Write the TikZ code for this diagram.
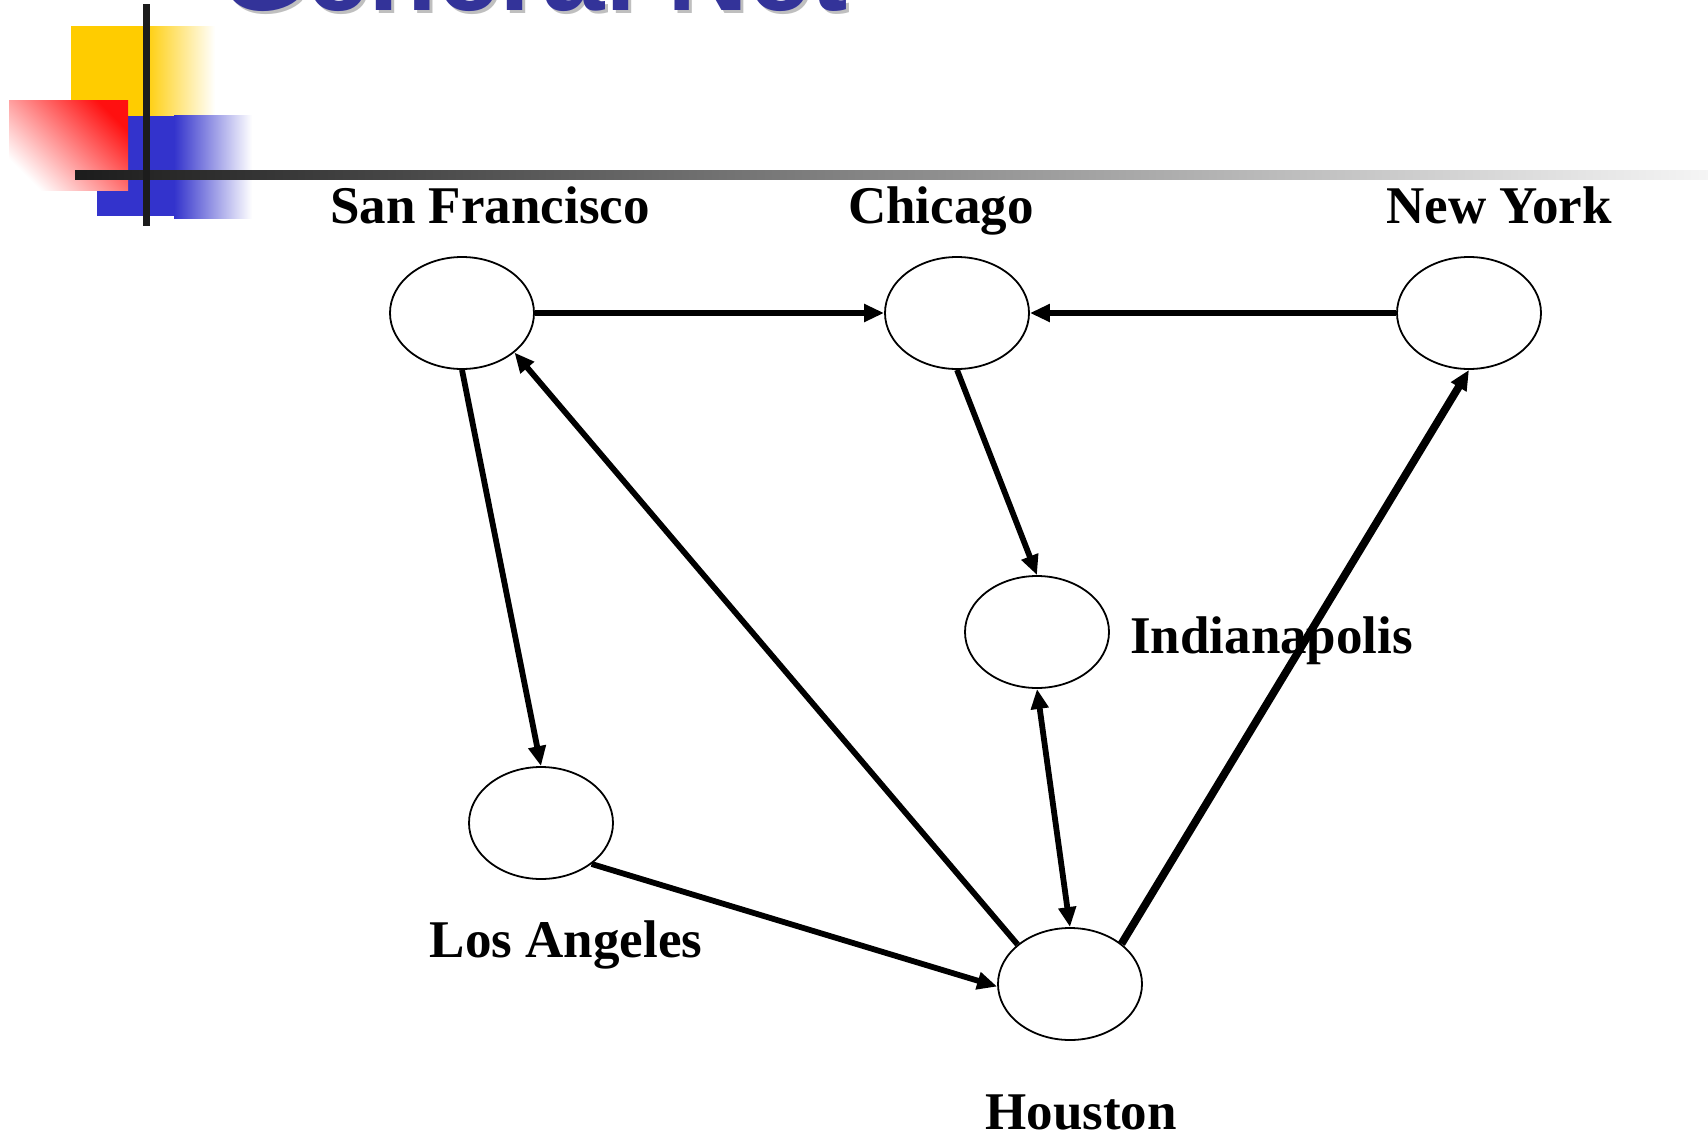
\documentclass[tikz,border=0pt]{standalone}
\usepackage{fontspec}
\setmainfont{Liberation Serif}
\newfontfamily\titlefont{Liberation Sans}
\usetikzlibrary{shapes.geometric,arrows.meta}
\definecolor{titleblue}{HTML}{333399}
\definecolor{titleshadow}{HTML}{BFBFBF}
\definecolor{deckyellow}{HTML}{FFCC00}
\definecolor{deckblue}{HTML}{3333CC}
\definecolor{deckred}{HTML}{FF1010}
\definecolor{rulegray}{HTML}{1C1C1C}

\begin{document}
\begin{tikzpicture}[x=1pt,y=-1pt,
  city/.style={ellipse,draw,line width=1.8pt,fill=white,minimum width=144pt,minimum height=112pt,inner sep=0pt},
  cityname/.style={font=\fontsize{53}{60}\selectfont\bfseries,anchor=base,inner sep=0pt},
  link/.style={line width=5.8pt,-{Triangle[length=20pt,width=17pt]}},
  titletext/.style={anchor=base west,inner sep=0pt,font=\titlefont\fontsize{112}{120}\selectfont\bfseries}
]
\useasboundingbox (0,0) rectangle (1708,1135);
\clip (0,0) rectangle (1708,1135);

% slide title, mostly above the page edge
\node[titletext,text=titleshadow] (titleshade) at (222,13) {General Net};
\node[titletext,text=titleblue] (title) at (219,10) {General Net};

% corner ornament
\fill[deckyellow] (71,26) rectangle (144,116);
\shade[left color=deckyellow,right color=white] (143,26) rectangle (215,116);
\fill[deckblue] (97,116) rectangle (175,216);
\shade[left color=deckblue,right color=white] (174,115) rectangle (252,218);
\shade[top color=deckred,bottom color=white,shading angle=-45] (9,100) rectangle (128,190);
\shade[left color=rulegray,right color=white!96!black] (75,170) rectangle (1708,179);
\fill[rulegray] (143,4) rectangle (150,226);

% cities
\node[city] (sf) at (462,313) {};
\node[city] (chi) at (957,313) {};
\node[city] (ny) at (1469,313) {};
\node[city] (ind) at (1037,632) {};
\node[city] (la) at (541,823) {};
\node[city] (hou) at (1070,984) {};

\node[cityname] (sflabel) at (490,223) {San Francisco};
\node[cityname] (chilabel) at (941,223) {Chicago};
\node[cityname] (nylabel) at (1499,223) {New York};
\node[cityname,anchor=base west] (indlabel) at (1130,653) {Indianapolis};
\node[cityname] (lalabel) at (566,957) {Los Angeles};
\node[cityname] (houlabel) at (1081,1129) {Houston};

% routes
\draw[link] (sf.east) -- (chi.west);
\draw[link] (ny.west) -- (chi.east);
\draw[link] (sf.south) -- (la.north);
\draw[link] (chi.south) -- (ind.north);
\draw[link] (hou.143) -- (sf.-37);
\draw[link,{Triangle[length=20pt,width=17pt]}-{Triangle[length=20pt,width=17pt]}] (ind.south) -- (hou.north);
\draw[link] (la.-39) -- (hou.182);
\draw[link,line width=7.8pt] (hou.38) -- (ny.south);
\end{tikzpicture}
\end{document}
